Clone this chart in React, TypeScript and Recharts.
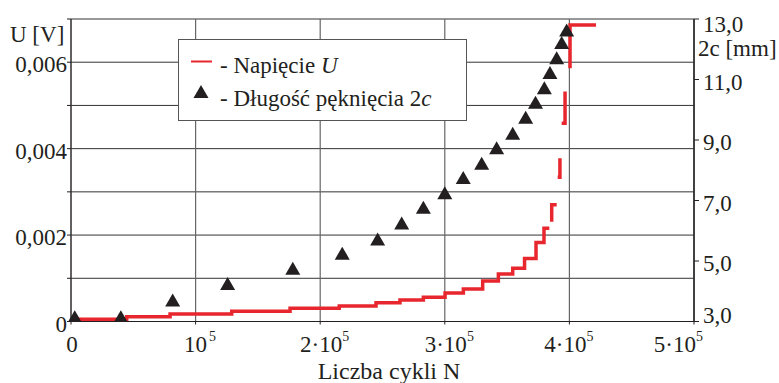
import { ComposedChart, Line, Scatter, XAxis, YAxis, CartesianGrid } from "recharts";

// voltage U [V] vs number of cycles, step trace with breaks (null = gap)
const cycles = [
  0, 44700, 79500, 129000, 175800, 215300, 244800, 264000, 282800, 300200, 314900, 330400,
  343000, 354500, 364000, 373200, 379600, 383900, 384800, 385800, 385800, 389800, 390200,
  390600, 392400, 393100, 393800, 396500, 398500, 400500, 400500, 421400,
];
const voltage = [
  0.00005, 0.00011, 0.000174, 0.000236, 0.000306, 0.000359, 0.000435, 0.000498, 0.00056,
  0.00066, 0.000752, 0.000938, 0.0011, 0.00123, 0.00146, 0.00183, 0.00216, 0.00216, null,
  0.00231, 0.0027, 0.0027, null, 0.00334, 0.00378, null, 0.00459, 0.00532, null, 0.00586,
  0.00686, 0.00686,
];

// crack length 2c [mm]
const crackCycles = [
  3000, 40000, 81600, 125700, 178000, 217700, 246100, 265400, 282800, 300000, 314800,
  329600, 341600, 354500, 364900, 372800, 379900, 384400, 389800, 393800, 397800,
];
const crackLength = [
  3.16, 3.16, 3.71, 4.26, 4.76, 5.26, 5.73, 6.26, 6.78, 7.26, 7.76, 8.23, 8.74, 9.22, 9.75,
  10.25, 10.73, 11.23, 11.72, 12.22, 12.64,
];

const uTicks = [0, 0.001, 0.002, 0.003, 0.004, 0.005, 0.006, 0.007];
const cTicks = [3, 5, 7, 9, 11, 13];
const nTicks = [0, 100000, 200000, 300000, 400000, 500000];

const voltageData = cycles.map((n, i) => ({ n, u: voltage[i] }));
const crackData = crackCycles.map((n, i) => ({ n, c: crackLength[i] }));

const FONT = "'Liberation Serif', 'DejaVu Serif', serif";
const INK = "#231f20";
const RED = "#e8262d";
const FS = 23;
const txt = { fontFamily: FONT, fontSize: FS, fill: INK };

function UTick({ x, y, payload }: any) {
  const v = payload.value;
  const k = Math.round(v * 1000);
  if (k % 2 === 1) return <g />;
  const label = k === 0 ? "0" : v.toFixed(3).replace(".", ",");
  return (
    <text x={x} y={y + 10} textAnchor="end" style={txt}>
      {label}
    </text>
  );
}

function CTick({ x, y, payload }: any) {
  const v = payload.value;
  const dy = v === 13 ? 13 : v === 3 ? 1 : 10;
  return (
    <text x={x} y={y + dy} textAnchor="start" style={txt}>
      {v.toFixed(1).replace(".", ",")}
    </text>
  );
}

// x labels like "3·10" with a raised "5"
function NTick({ x, y, payload }: any) {
  const k = Math.round(payload.value / 100000);
  const base = y + 25;
  if (k === 0) {
    return (
      <text x={x + 1} y={base} textAnchor="middle" style={txt}>
        0
      </text>
    );
  }
  const main = k === 1 ? "10" : `${k}·10`;
  const w = (k === 1 ? 1 : 1.75) * FS;
  let left = x - w / 2;
  if (k === 4) left -= 5;
  if (k === 5) left = x - w;
  return (
    <g>
      <text x={left} y={base} style={txt}>
        {main}
      </text>
      <text x={left + w + 2} y={base - 11} style={{ ...txt, fontSize: 14 }}>
        5
      </text>
    </g>
  );
}

function Tri({ cx, cy }: any) {
  if (cx == null || cy == null) return <g />;
  return (
    <polygon
      points={`${cx},${cy - 6.5} ${cx - 7.5},${cy + 6.5} ${cx + 7.5},${cy + 6.5}`}
      fill={INK}
    />
  );
}

export default function App() {
  return (
    <div style={{ position: "absolute", left: 0, top: 0, width: 779, height: 383, background: "#fff" }}>
      <ComposedChart width={779} height={383} margin={{ top: 19, right: 0, bottom: 0, left: 0 }}>
        <CartesianGrid yAxisId="u" vertical={false} stroke="#333" />
        <CartesianGrid yAxisId="u" horizontal={false} stroke="#666" strokeWidth={1.2} />
        <XAxis
          dataKey="n"
          type="number"
          domain={[0, 500000]}
          ticks={nTicks}
          interval={0}
          height={61.5}
          tickSize={3}
          tickMargin={2}
          axisLine={{ stroke: INK }}
          tickLine={{ stroke: INK }}
          tick={<NTick />}
        />
        <YAxis
          yAxisId="u"
          dataKey="u"
          type="number"
          domain={[0, 0.007]}
          ticks={uTicks}
          interval={0}
          width={71}
          tickSize={4}
          tickMargin={0}
          axisLine={{ stroke: INK }}
          tickLine={{ stroke: INK }}
          tick={<UTick />}
          allowDataOverflow
        />
        <YAxis
          yAxisId="c"
          dataKey="c"
          orientation="right"
          type="number"
          domain={[3, 13]}
          ticks={cTicks}
          interval={0}
          width={85}
          tickSize={5}
          tickMargin={4}
          axisLine={{ stroke: INK, strokeWidth: 1.5 }}
          tickLine={{ stroke: INK }}
          tick={<CTick />}
          allowDataOverflow
        />
        <Line
          yAxisId="u"
          data={voltageData}
          dataKey="u"
          type="stepAfter"
          stroke={RED}
          strokeWidth={3.5}
          dot={false}
          activeDot={false}
          isAnimationActive={false}
        />
        <Scatter
          yAxisId="c"
          data={crackData}
          dataKey="c"
          shape={<Tri />}
          isAnimationActive={false}
        />
      </ComposedChart>
      <svg
        width={779}
        height={383}
        style={{ position: "absolute", left: 0, top: 0, pointerEvents: "none" }}
      >
        <g style={txt}>
          <text x={10} y={42}>U [V]</text>
          <text x={698} y={56}>2c [mm]</text>
          <text x={389} y={379} textAnchor="middle" style={{ fontSize: 24 }}>
            Liczba cykli N
          </text>
        </g>
        <rect x={178.5} y={39.5} width={288} height={81} fill="#fff" stroke="#555" strokeWidth={1} />
        <line x1={191} y1={61.5} x2={212} y2={61.5} stroke={RED} strokeWidth={2} />
        <polygon points="201,85 193.5,98 208.5,98" fill={INK} />
        <g style={txt}>
          <text x={220} y={73}>
            - Napięcie <tspan style={{ fontStyle: "italic" }}>U</tspan>
          </text>
          <text x={220} y={106}>
            - Długość pęknięcia 2<tspan style={{ fontStyle: "italic" }}>c</tspan>
          </text>
        </g>
      </svg>
    </div>
  );
}
